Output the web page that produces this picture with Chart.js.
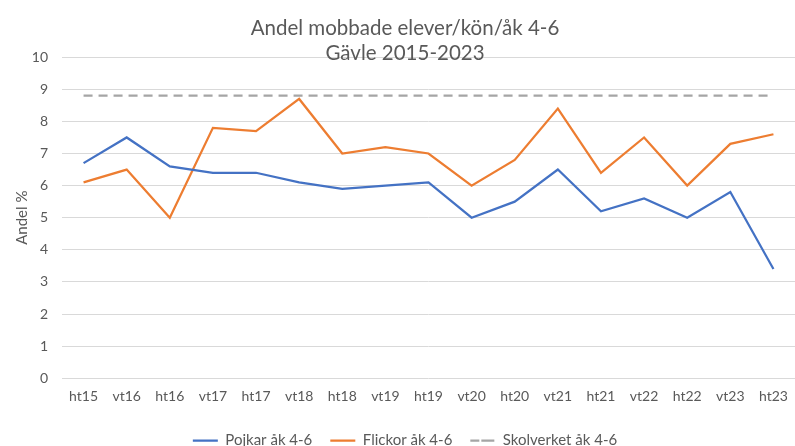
<!DOCTYPE html>
<html>
<head>
<meta charset="utf-8">
<script src="https://cdn.jsdelivr.net/npm/chart.js@4/dist/chart.umd.min.js"></script>
<style>
  html, body { margin: 0; padding: 0; background: #fff; }
  #wrap { width: 795px; height: 446px; }
</style>
</head>
<body>
<div id="wrap"><canvas id="myChart" width="795" height="446"></canvas></div>
<script>
// terminer (ht = hösttermin, vt = vårtermin)
const terminer = ['ht15', 'vt16', 'ht16', 'vt17', 'ht17', 'vt18', 'ht18', 'vt19', 'ht19',
                  'vt20', 'ht20', 'vt21', 'ht21', 'vt22', 'ht22', 'vt23', 'ht23'];
const pojkar = [6.7, 7.5, 6.6, 6.4, 6.4, 6.1, 5.9, 6.0, 6.1, 5.0, 5.5, 6.5, 5.2, 5.6, 5.0, 5.8, 3.4];
const flickor = [6.1, 6.5, 5.0, 7.8, 7.7, 8.7, 7.0, 7.2, 7.0, 6.0, 6.8, 8.4, 6.4, 7.5, 6.0, 7.3, 7.6];
const skolverket = [8.8, 8.8, 8.8, 8.8, 8.8, 8.8, 8.8, 8.8, 8.8, 8.8, 8.8, 8.8, 8.8, 8.8, 8.8, 8.8, 8.8];
const rubrik = ['Andel mobbade elever/kön/åk 4-6', 'Gävle 2015-2023'];

const textColor = '#595959';
const fontFamily = 'Lato, "Open Sans", sans-serif';

drawChart();

function drawChart(){
    const ctx = document.querySelector("#myChart");

    new Chart(ctx, {
        type: 'line',
        data: {
            labels: terminer,
            datasets: [
                { label: 'Pojkar åk 4-6', data: pojkar, borderColor: '#4472C4', backgroundColor: '#4472C4', borderWidth: 2.25, pointRadius: 0, tension: 0 },
                { label: 'Flickor åk 4-6', data: flickor, borderColor: '#ED7D31', backgroundColor: '#ED7D31', borderWidth: 2.25, pointRadius: 0, tension: 0 },
                { label: 'Skolverket åk 4-6', data: skolverket, borderColor: '#A5A5A5', backgroundColor: '#A5A5A5', borderWidth: 2.25, borderDash: [9, 6], pointRadius: 0, tension: 0 }
            ]
        },
        options: {
            responsive: false,
            animation: false,
            layout: { padding: { left: 13, right: -2, top: 0, bottom: -12 } },
            plugins: {
                title: {
                    display: true,
                    text: rubrik,
                    color: textColor,
                    font: { family: fontFamily, size: 20.5, weight: 'normal', lineHeight: 1.2 },
                    padding: { top: 16, bottom: -8 }
                },
                legend: {
                    position: 'bottom',
                    labels: {
                        color: textColor,
                        font: { family: fontFamily, size: 15 },
                        boxWidth: 25,
                        boxHeight: 0,
                        padding: 18
                    }
                },
                tooltip: { enabled: false }
            },
            scales: {
                x: {
                    offset: true,
                    grid: { display: false },
                    border: { display: false },
                    ticks: { color: textColor, font: { family: fontFamily, size: 14 }, padding: 2 },
                    afterFit: (scale) => { scale.height = scale.height + 8; }
                },
                y: {
                    min: 0,
                    max: 10,
                    grid: { color: '#D9D9D9', drawTicks: false },
                    border: { display: false },
                    ticks: { stepSize: 1, color: textColor, font: { family: fontFamily, size: 14 }, padding: 14 },
                    title: { display: true, text: 'Andel %', color: textColor, font: { family: fontFamily, size: 15 }, padding: 0 },
                    afterFit: (scale) => { scale.width = 49; }
                }
            }
        }
    });
}
</script>
</body>
</html>
